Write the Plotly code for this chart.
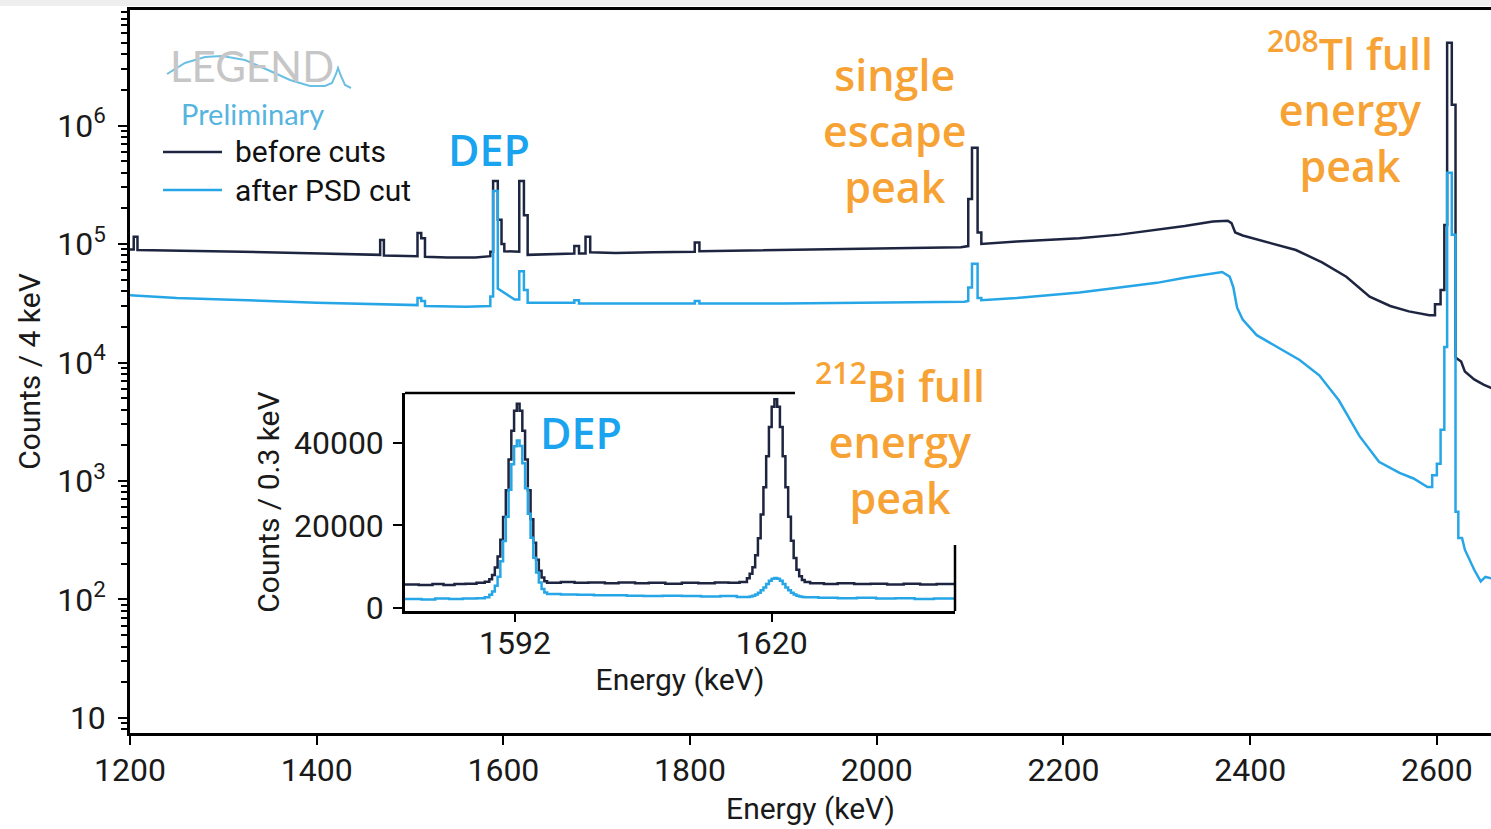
import plotly.graph_objects as go

# ---------------- data ----------------
# main spectrum, 4 keV binning: (energy keV, counts) nodes; repeated energies are bin edges of peaks
before_cuts = [
    (1200, 9.0e4), (1204, 9.0e4), (1204, 1.15e5), (1208, 1.15e5), (1208, 8.9e4),
    (1260, 8.8e4), (1320, 8.6e4), (1380, 8.4e4), (1440, 8.2e4),
    (1468, 8.1e4), (1468, 1.08e5), (1472, 1.08e5), (1472, 8.0e4),
    (1508, 7.9e4), (1508, 1.24e5), (1512, 1.24e5), (1512, 1.12e5), (1516, 1.12e5), (1516, 7.8e4),
    (1540, 7.7e4), (1570, 7.7e4), (1586, 7.9e4), (1586, 8.6e4), (1589, 8.6e4),
    (1589, 3.4e5), (1594, 3.4e5), (1594, 1.6e5), (1598, 1.6e5), (1598, 1.0e5), (1601, 1.0e5), (1601, 8.7e4),
    (1617, 8.6e4), (1617, 3.4e5), (1622, 3.4e5), (1622, 1.75e5), (1626, 1.75e5), (1626, 8.1e4),
    (1650, 8.2e4), (1676, 8.3e4), (1676, 9.6e4), (1681, 9.6e4), (1681, 8.3e4),
    (1688, 8.3e4), (1688, 1.15e5), (1693, 1.15e5), (1693, 8.5e4),
    (1720, 8.4e4), (1760, 8.5e4), (1805, 8.6e4), (1805, 1.03e5), (1810, 1.03e5), (1810, 8.7e4),
    (1850, 8.8e4), (1900, 8.9e4), (1950, 9.1e4), (2000, 9.2e4), (2050, 9.3e4), (2090, 9.4e4),
    (2098, 9.6e4), (2098, 2.4e5), (2102, 2.4e5), (2102, 6.5e5), (2108, 6.5e5),
    (2108, 1.25e5), (2112, 1.25e5), (2112, 1.0e5),
    (2150, 1.05e5), (2217, 1.12e5), (2260, 1.2e5), (2300, 1.32e5), (2330, 1.42e5),
    (2360, 1.55e5), (2376, 1.57e5), (2380, 1.50e5), (2384, 1.25e5), (2392, 1.18e5),
    (2413, 1.06e5), (2449, 8.9e4), (2477, 7.0e4), (2503, 5.3e4), (2528, 3.6e4),
    (2550, 3.0e4), (2570, 2.7e4), (2592, 2.5e4), (2598, 2.5e4), (2598, 3.1e4), (2604, 3.1e4),
    (2604, 4.1e4), (2608, 4.1e4), (2608, 1.45e5), (2611, 1.45e5), (2611, 5.0e6), (2616, 5.0e6),
    (2616, 1.5e6), (2620, 1.5e6), (2620, 1.1e4), (2626, 1.02e4), (2630, 8.4e3),
    (2640, 7.2e3), (2650, 6.5e3), (2660, 6.0e3),
]

after_psd = [
    (1200, 3.7e4), (1250, 3.5e4), (1300, 3.4e4), (1400, 3.2e4),
    (1508, 3.05e4), (1508, 3.5e4), (1512, 3.5e4), (1512, 3.3e4), (1516, 3.3e4), (1516, 3.0e4),
    (1560, 2.95e4), (1586, 3.0e4), (1586, 3.6e4), (1589, 3.6e4),
    (1589, 2.8e5), (1594, 2.8e5), (1594, 4.2e4), (1598, 4.0e4), (1612, 3.4e4),
    (1617, 3.4e4), (1617, 5.9e4), (1622, 5.9e4), (1622, 4.1e4), (1626, 4.1e4), (1626, 3.2e4),
    (1676, 3.2e4), (1676, 3.35e4), (1681, 3.35e4), (1681, 3.15e4),
    (1805, 3.15e4), (1805, 3.3e4), (1810, 3.3e4), (1810, 3.15e4),
    (1900, 3.15e4), (2000, 3.2e4), (2094, 3.25e4), (2098, 3.3e4),
    (2098, 4.3e4), (2102, 4.3e4), (2102, 6.8e4), (2108, 6.8e4), (2108, 3.5e4), (2112, 3.5e4), (2112, 3.35e4),
    (2150, 3.5e4), (2217, 3.9e4), (2260, 4.3e4), (2300, 4.7e4), (2330, 5.2e4),
    (2360, 5.7e4), (2370, 5.8e4), (2378, 5.3e4), (2382, 4.3e4), (2386, 2.9e4), (2392, 2.3e4),
    (2407, 1.7e4), (2431, 1.32e4), (2453, 1.05e4), (2474, 7.8e3), (2495, 4.8e3),
    (2517, 2.4e3), (2538, 1.45e3), (2560, 1.17e3), (2575, 1.05e3), (2590, 890),
    (2595, 890), (2595, 1.12e3), (2600, 1.12e3), (2600, 1.4e3), (2604, 1.4e3),
    (2604, 2.7e3), (2608, 2.7e3), (2608, 1.35e4), (2611, 1.35e4), (2611, 4.0e5), (2616, 4.0e5),
    (2616, 1.2e5), (2620, 1.2e5), (2620, 550), (2623, 550), (2623, 330), (2627, 330),
    (2630, 263), (2635, 214), (2640, 178), (2647, 142), (2652, 155), (2660, 150),
]

# zoomed spectrum, 0.3 keV binning: (bin left edge keV, counts)
inset_before = [
    (1580.0, 5700), (1581.5, 5600), (1583.0, 5800), (1584.2, 5600), (1585.4, 5800),
    (1586.6, 5900), (1587.8, 6100), (1588.7, 6400),
    (1589.2, 7000), (1589.5, 8000), (1589.8, 9800), (1590.1, 12500), (1590.4, 16500),
    (1590.7, 22000), (1591.0, 28500), (1591.3, 35900), (1591.6, 42900), (1591.9, 47700),
    (1592.2, 49400), (1592.5, 47700), (1592.8, 42900), (1593.1, 35900), (1593.4, 28500),
    (1593.7, 21500), (1594.0, 15800), (1594.3, 11700), (1594.6, 9000), (1594.9, 7400),
    (1595.2, 6500), (1595.5, 6100),
    (1597.0, 6300), (1598.5, 6100), (1600.0, 6200), (1601.8, 6000), (1603.3, 6200),
    (1605.1, 6000), (1606.6, 6100), (1608.4, 5900), (1610.2, 6100), (1612.0, 6000),
    (1613.8, 6200), (1615.3, 6100), (1616.5, 6300),
    (1617.3, 7200), (1617.6, 8300), (1617.9, 9900), (1618.2, 12800), (1618.5, 16900),
    (1618.8, 22600), (1619.1, 29200), (1619.4, 36700), (1619.7, 43800), (1620.0, 48700),
    (1620.3, 50500), (1620.6, 48700), (1620.9, 43800), (1621.2, 36700), (1621.5, 29200),
    (1621.8, 22100), (1622.1, 16300), (1622.4, 12100), (1622.7, 9300), (1623.0, 7700),
    (1623.3, 6800), (1623.6, 6300),
    (1624.2, 6000), (1625.7, 5800), (1627.2, 6000), (1629.0, 5800), (1630.8, 5900),
    (1632.6, 5700), (1634.4, 5900), (1636.2, 5700), (1638.0, 5800), (1640.0, 5800),
]

inset_after = [
    (1580.0, 2200), (1581.8, 2100), (1583.3, 2300), (1584.8, 2200), (1586.3, 2300),
    (1587.8, 2400), (1588.7, 2600),
    (1589.2, 3200), (1589.5, 4000), (1589.8, 5400), (1590.1, 7600), (1590.4, 11300),
    (1590.7, 16200), (1591.0, 22100), (1591.3, 28600), (1591.6, 34800), (1591.9, 39100),
    (1592.2, 40500), (1592.5, 39200), (1592.8, 35000), (1593.1, 29000), (1593.4, 22800),
    (1593.7, 17000), (1594.0, 12200), (1594.3, 8600), (1594.6, 6200), (1594.9, 4600),
    (1595.2, 3800), (1595.5, 3400),
    (1597.0, 3300), (1598.8, 3200), (1600.6, 3100), (1602.4, 3100), (1604.2, 3000),
    (1606.0, 2900), (1608.1, 3000), (1610.2, 2900), (1612.3, 2800), (1614.4, 2900),
    (1616.2, 2700),
    (1617.3, 2700), (1617.6, 2800), (1617.9, 3000), (1618.2, 3300), (1618.5, 3700),
    (1618.8, 4300), (1619.1, 5000), (1619.4, 5800), (1619.7, 6600), (1620.0, 7100),
    (1620.3, 7300), (1620.6, 7100), (1620.9, 6600), (1621.2, 5800), (1621.5, 5000),
    (1621.8, 4300), (1622.1, 3700), (1622.4, 3300), (1622.7, 3000), (1623.0, 2800),
    (1623.3, 2700), (1623.6, 2600),
    (1625.1, 2500), (1627.2, 2400), (1629.3, 2500), (1631.4, 2300), (1633.5, 2400),
    (1635.6, 2200), (1637.7, 2300), (1640.0, 2200),
]

main_xticks = [1200, 1400, 1600, 1800, 2000, 2200, 2400, 2600]
main_yticks = [1e1, 1e2, 1e3, 1e4, 1e5, 1e6]
main_yticklabels = ["10", "10<sup>2</sup>", "10<sup>3</sup>", "10<sup>4</sup>", "10<sup>5</sup>", "10<sup>6</sup>"]
inset_xticks = [1592, 1620]
inset_yticks = [0, 20000, 40000]
inset_yticklabels = ["0", "20000", "40000"]

# ---------------- styling ----------------
DARK = "#1e2540"
BLUE = "#26a6e6"
ORANGE = "#f7a234"
LABEL_BLUE = "#1aa4ef"
W, H = 1491, 829
ML, MR, MT, MB = 130, 0, 10, 96
PW, PH = W - ML - MR, H - MT - MB


def to_paper(px, py):
    """Pixel position on the page -> paper coordinates of the plot area."""
    return (px - ML) / PW, (H - MB - py) / PH


fig = go.Figure()

fig.add_trace(go.Scatter(
    x=[e for e, _ in before_cuts], y=[c for _, c in before_cuts],
    mode="lines", line=dict(color=DARK, width=2.5), name="before cuts",
))
fig.add_trace(go.Scatter(
    x=[e for e, _ in after_psd], y=[c for _, c in after_psd],
    mode="lines", line=dict(color=BLUE, width=2.5), name="after PSD cut",
))
fig.add_trace(go.Scatter(
    x=[e for e, _ in inset_before], y=[c for _, c in inset_before],
    mode="lines", line=dict(color=DARK, width=2.5, shape="hv"),
    xaxis="x2", yaxis="y2", name="before cuts",
))
fig.add_trace(go.Scatter(
    x=[e for e, _ in inset_after], y=[c for _, c in inset_after],
    mode="lines", line=dict(color=BLUE, width=2.5, shape="hv"),
    xaxis="x2", yaxis="y2", name="after PSD cut",
))

tick_font = dict(family="Roboto", size=32, color="#1a1a1a")
title_font = dict(family="Roboto", size=30, color="#1a1a1a")

minor_vals = [m * 10 ** d for d in range(0, 7) for m in range(2, 10)]

ix0, iy1 = to_paper(405, 393)
ix1, iy0 = to_paper(955, 611)

fig.update_layout(
    width=W, height=H,
    margin=dict(l=ML, r=MR, t=MT, b=MB),
    paper_bgcolor="white", plot_bgcolor="white",
    showlegend=False,
    xaxis=dict(
        range=[1200, 2658], tickvals=main_xticks, ticks="outside", ticklen=9, tickwidth=2,
        tickcolor="black", showline=True, linecolor="black", linewidth=2.5, mirror=True,
        showgrid=False, zeroline=False, tickfont=tick_font, ticklabelstandoff=-2,
        title=dict(text="Energy (keV)", font=title_font, standoff=10),
    ),
    yaxis=dict(
        type="log", range=[0.873, 6.975], tickvals=main_yticks, ticktext=main_yticklabels,
        ticks="outside", ticklen=9, tickwidth=2, tickcolor="black",
        minor=dict(tickvals=minor_vals, ticks="outside", ticklen=6, tickwidth=1.5, tickcolor="black", showgrid=False),
        showline=True, linecolor="black", linewidth=2.5, showgrid=False, zeroline=False,
        tickfont=tick_font, ticklabelstandoff=6,
        title=dict(text="Counts / 4 keV", font=title_font, standoff=8),
    ),
    xaxis2=dict(
        domain=[ix0, ix1], anchor="y2", range=[1580, 1640], tickvals=inset_xticks,
        ticks="outside", ticklen=8, tickwidth=2, tickcolor="black",
        showline=True, linecolor="black", linewidth=2.5, showgrid=False, zeroline=False,
        tickfont=tick_font, ticklabelstandoff=-6,
        title=dict(text="Energy (keV)", font=title_font, standoff=8),
    ),
    yaxis2=dict(
        domain=[iy0, iy1], anchor="x2", range=[-700, 52000], tickvals=inset_yticks,
        ticktext=inset_yticklabels,
        ticks="outside", ticklen=9, tickwidth=2, tickcolor="black",
        showline=True, linecolor="black", linewidth=2.5, showgrid=False, zeroline=False,
        tickfont=tick_font, ticklabelstandoff=3,
        title=dict(text="Counts / 0.3 keV", font=title_font, standoff=6),
    ),
)

shapes = []
# partial frame of the zoomed panel (top and right edges)
shapes.append(dict(type="line", xref="x2 domain", yref="y2 domain", x0=0, x1=(795 - 405) / 550,
                   y0=1, y1=1, line=dict(color="black", width=2.5)))
shapes.append(dict(type="line", xref="x2 domain", yref="y2 domain", x0=1, x1=1,
                   y0=0, y1=(611 - 545) / 218, line=dict(color="black", width=2.5)))

# legend keys
for py, col in [(152, DARK), (190, BLUE)]:
    a = to_paper(163, py)
    b = to_paper(222, py)
    shapes.append(dict(type="line", xref="paper", yref="paper", x0=a[0], x1=b[0], y0=a[1], y1=b[1],
                       line=dict(color=col, width=2.5)))

# light strip along the top edge of the page
g0 = to_paper(0, 0)
g1 = to_paper(W, 6)
shapes.append(dict(type="rect", xref="paper", yref="paper", x0=g0[0], x1=g1[0], y0=g1[1], y1=g0[1],
                   line=dict(width=0), fillcolor="#eeeeee", layer="below"))

# wave of the collaboration logo
wave_px = [(167, 74), (185, 63), (205, 57), (222, 56), (245, 60), (268, 70), (290, 80),
           (310, 86), (325, 86), (332, 83), (336, 74), (338, 68), (341, 76), (345, 85), (351, 88)]
wave = [to_paper(x, y) for x, y in wave_px]
path = "M " + " L ".join(f"{x:.5f},{y:.5f}" for x, y in wave)
shapes.append(dict(type="path", xref="paper", yref="paper", path=path,
                   line=dict(color="#6cc0e4", width=2)))

fig.update_layout(shapes=shapes)


def note(px, py, text, size, color, family="Open Sans", weight="normal",
         xanchor="center", yanchor="middle", **kw):
    x, y = to_paper(px, py)
    fig.add_annotation(x=x, y=y, xref="paper", yref="paper", text=text, showarrow=False,
                       xanchor=xanchor, yanchor=yanchor,
                       font=dict(family=family, size=size, color=color, weight=weight), **kw)


note(252, 66, "LEGEND", 42, "#c6c6c6", family="Lato")
note(252, 113, "Preliminary", 29, "#56b5df", family="Lato")
note(233, 152, "before cuts", 30, "#111111", family="Roboto", xanchor="left")
note(233, 190, "after PSD cut", 30, "#111111", family="Roboto", xanchor="left")

note(489, 150, "DEP", 43, LABEL_BLUE, weight=600)
note(581, 433, "DEP", 43, LABEL_BLUE, weight=600)
note(895, 131, "single<br>escape<br>peak", 43, ORANGE, weight=600)
note(1350, 108, "<sup>208</sup>Tl full<br>energy<br>peak", 43, ORANGE, weight=600)
note(900, 439, "<sup>212</sup>Bi full<br>energy<br>peak", 43, ORANGE, weight=600)

fig.write_html("out.html")
